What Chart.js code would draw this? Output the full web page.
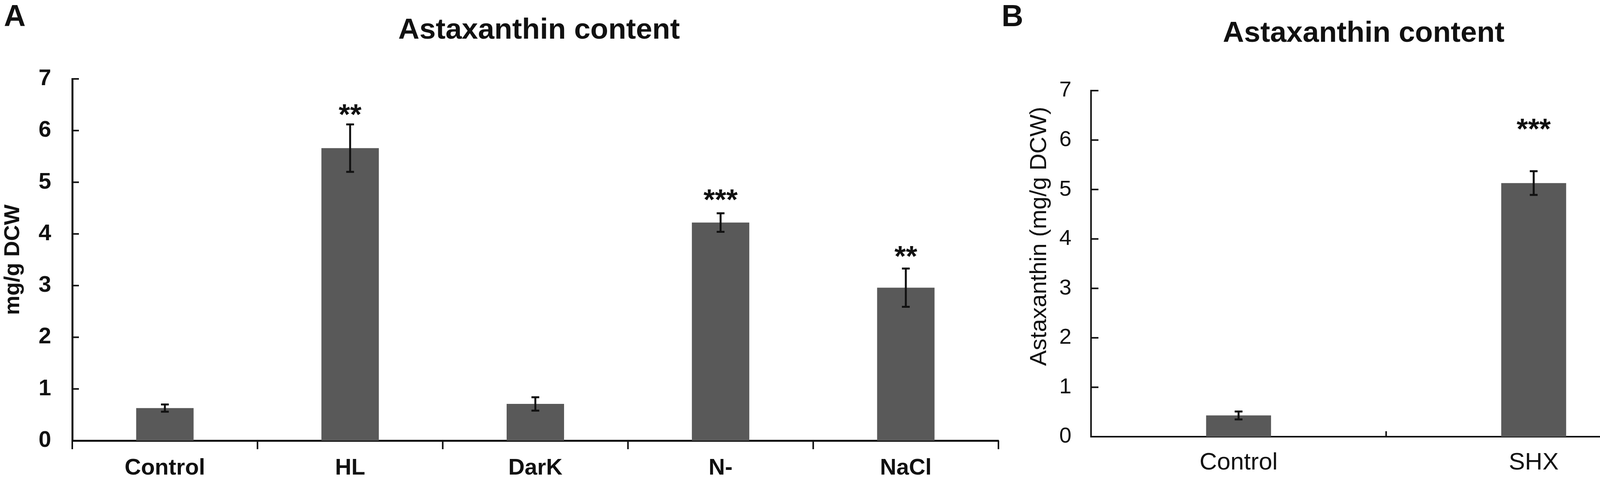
<!DOCTYPE html>
<html>
<head>
<meta charset="utf-8">
<title>Astaxanthin content</title>
<script src="https://cdn.jsdelivr.net/npm/chart.js@4.4.1/dist/chart.umd.min.js"></script>
<style>
    html, body { margin: 0; padding: 0; background: #fff; }
    body { width: 4319px; height: 1234px; position: relative; overflow: hidden; }
    #chartA { position: absolute; left: 0; top: 0; }
    #chartB { position: absolute; left: 2540px; top: 0; }
</style>
</head>
<body>
<canvas id="chartA" width="2600" height="1234"></canvas>
<canvas id="chartB" width="1779" height="1234"></canvas>

<script>
// ================== DATA ==================
const yTicks = [0, 1, 2, 3, 4, 5, 6, 7];

// panel A
const categoriesA = ["Control", "HL", "DarK", "N-", "NaCl"];
const valuesA     = [0.63, 5.66, 0.71, 4.22, 2.96];
const errorsA     = [0.07, 0.46, 0.13, 0.18, 0.37];
const starsA      = ["", "**", "", "***", "**"];
const starLevelA  = [null, 6.44, null, 4.79, 3.70];

// panel B
const categoriesB = ["Control", "SHX"];
const valuesB     = [0.43, 5.13];
const errorsB     = [0.08, 0.24];
const starsB      = ["", "***"];
const starLevelB  = [null, 6.36];

const FONT = "'Liberation Sans', Arial, sans-serif";
const BAR  = "#595959";
const INK  = "#111";

// ================== EXTRAS PLUGIN ==================
// inner tick marks, category ticks, error bars, stars, free text
const extras = {
    id: "extras",
    afterDraw(chart, args, o) {
        const ctx  = chart.ctx;
        const xs   = chart.scales.x;
        const ys   = chart.scales.y;
        const area = chart.chartArea;
        ctx.save();
        ctx.strokeStyle = INK;
        ctx.fillStyle   = INK;

        // y ticks pointing into the plot
        ctx.lineWidth = o.tickWidth;
        ys.ticks.forEach(t => {
            const py = ys.getPixelForValue(t.value);
            ctx.beginPath();
            ctx.moveTo(area.left, py);
            ctx.lineTo(area.left + o.yTickLen, py);
            ctx.stroke();
        });

        // category boundary ticks
        const n = xs.ticks.length;
        for (let i = 0; i <= n; i++) {
            if (!o.endTicks && (i === 0 || i === n)) continue;
            const px = xs.getPixelForValue(i - 0.5);
            ctx.beginPath();
            ctx.moveTo(px, area.bottom);
            ctx.lineTo(px, area.bottom + o.xTickLen);
            ctx.stroke();
        }

        // error bars
        const meta = chart.getDatasetMeta(0);
        ctx.lineWidth = o.errWidth;
        meta.data.forEach((bar, i) => {
            const v  = o.values[i], e = o.errors[i];
            const y1 = ys.getPixelForValue(v + e);
            const y2 = ys.getPixelForValue(v - e);
            const c  = o.capWidth / 2;
            ctx.beginPath();
            ctx.moveTo(bar.x, y1); ctx.lineTo(bar.x, y2);
            ctx.moveTo(bar.x - c, y1); ctx.lineTo(bar.x + c, y1);
            ctx.moveTo(bar.x - c, y2); ctx.lineTo(bar.x + c, y2);
            ctx.stroke();
        });

        // significance stars
        ctx.font = "bold " + o.starSize + "px " + FONT;
        ctx.textAlign = "center";
        ctx.textBaseline = "alphabetic";
        meta.data.forEach((bar, i) => {
            if (!o.stars[i]) return;
            const py = ys.getPixelForValue(o.starLevels[i]);
            ctx.fillText(o.stars[i], bar.x, py + o.starSize * 0.56);
        });

        // titles, panel letters
        o.texts.forEach(t => {
            ctx.save();
            ctx.font = t.font;
            ctx.textAlign = t.align || "left";
            ctx.textBaseline = "alphabetic";
            ctx.translate(t.x, t.y);
            if (t.rot) ctx.rotate(t.rot);
            ctx.fillText(t.text, 0, 0);
            ctx.restore();
        });
        ctx.restore();
    }
};

function buildChart(id, cats, vals, cfg) {
    return new Chart(document.getElementById(id), {
        type: "bar",
        data: {
            labels: cats,
            datasets: [{
                data: vals,
                backgroundColor: BAR,
                borderWidth: 0,
                barPercentage: cfg.barPct,
                categoryPercentage: 1
            }]
        },
        options: {
            responsive: false,
            animation: false,
            devicePixelRatio: 1,
            layout: { padding: cfg.padding },
            plugins: {
                legend: { display: false },
                tooltip: { enabled: false },
                extras: cfg.extras
            },
            scales: {
                x: {
                    grid: { display: false, drawTicks: false },
                    border: { display: true, color: INK, width: cfg.axisWidth },
                    ticks: {
                        color: INK,
                        padding: cfg.xPad,
                        font: { family: FONT, size: cfg.xSize, weight: cfg.weight, lineHeight: 1 }
                    },
                    afterFit: s => { s.height = cfg.xHeight; }
                },
                y: {
                    min: 0,
                    max: 7,
                    afterBuildTicks: s => { s.ticks = yTicks.map(v => ({ value: v })); },
                    grid: { display: false, drawTicks: false },
                    border: { display: true, color: INK, width: cfg.axisWidth },
                    ticks: {
                        color: INK,
                        padding: cfg.yPad,
                        font: { family: FONT, size: cfg.ySize, weight: cfg.weight }
                    },
                    title: cfg.yTitle,
                    afterFit: s => { s.width = cfg.yWidth; }
                }
            }
        },
        plugins: [extras]
    });
}

// ================== PANEL A ==================
buildChart("chartA", categoriesA, valuesA, {
    barPct: 0.31,
    padding: { left: 0, right: 44, top: 202, bottom: 0 },
    axisWidth: 5,
    xHeight: 106, yWidth: 185,
    xPad: 42, yPad: 54,
    xSize: 58, ySize: 58, weight: "bold",
    yTitle: {
        display: true, text: "mg/g DCW", color: INK,
        padding: { top: 0, bottom: 0 },
        font: { family: FONT, size: 56, weight: "bold" }
    },
    extras: {
        values: valuesA, errors: errorsA, stars: starsA, starLevels: starLevelA,
        tickWidth: 4, yTickLen: 17, xTickLen: 22, endTicks: true,
        errWidth: 5, capWidth: 20, starSize: 75,
        texts: [
            { text: "A", x: 10, y: 67, font: "bold 77px " + FONT },
            { text: "Astaxanthin content", x: 1380, y: 99, align: "center", font: "bold 75px " + FONT }
        ]
    }
});

// ================== PANEL B ==================
buildChart("chartB", categoriesB, valuesB, {
    barPct: 0.22,
    padding: { left: 0, right: 15, top: 232, bottom: 0 },
    axisWidth: 4,
    xHeight: 116, yWidth: 253,
    xPad: 36, yPad: 50,
    xSize: 62, ySize: 56, weight: "normal",
    yTitle: { display: false },
    extras: {
        values: valuesB, errors: errorsB, stars: starsB, starLevels: starLevelB,
        tickWidth: 4, yTickLen: 19, xTickLen: -14, endTicks: false,
        errWidth: 5, capWidth: 20, starSize: 75,
        texts: [
            { text: "B", x: 24, y: 67, font: "bold 77px " + FONT },
            { text: "Astaxanthin content", x: 951, y: 107, align: "center", font: "bold 75px " + FONT },
            { text: "Astaxanthin (mg/g DCW)", x: 138, y: 605, align: "center", rot: -Math.PI / 2, font: "60px " + FONT }
        ]
    }
});
</script>
</body>
</html>
